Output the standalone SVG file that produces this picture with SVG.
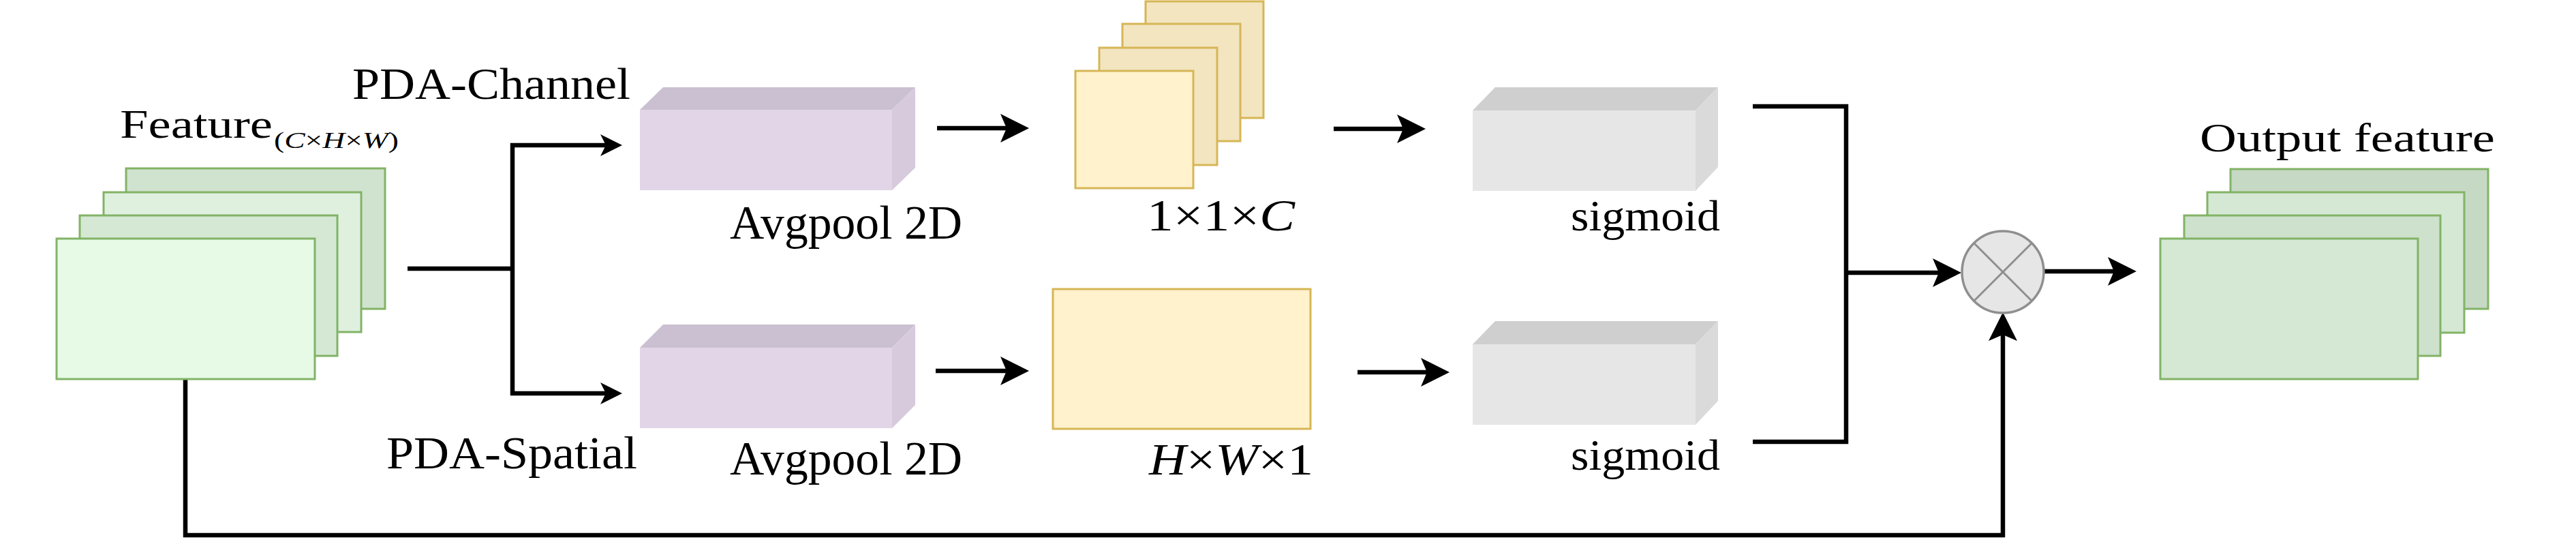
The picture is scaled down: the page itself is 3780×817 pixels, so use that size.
<svg xmlns="http://www.w3.org/2000/svg" width="3780" height="817" viewBox="0 0 3780 817">
<style>
  text { font-family: 'Liberation Serif', 'DejaVu Serif', serif; fill: #000; }
  .it { font-style: italic; }
  .conn { fill: none; stroke: #000; stroke-width: 6.5; }
  .grn { stroke: #82b366; stroke-width: 3; }
  .yel { stroke: #d6b656; stroke-width: 3; }
</style>
<defs>
  <marker id="arrL" markerUnits="userSpaceOnUse" viewBox="0 0 42 42" markerWidth="42" markerHeight="42" refX="16" refY="21" orient="auto">
    <path d="M42,21 L0,0 L9,21 L0,42 Z" fill="#000"/>
  </marker>
  <marker id="arrS" markerUnits="userSpaceOnUse" viewBox="0 0 32 32" markerWidth="32" markerHeight="32" refX="12" refY="16" orient="auto">
    <path d="M32,16 L0,0 L8,16 L0,32 Z" fill="#000"/>
  </marker>
</defs>

<g id="connectors">
  <path class="conn" d="M598,394 H752"/>
  <path class="conn" d="M752,394 V213 H893" marker-end="url(#arrS)"/>
  <path class="conn" d="M752,394 V577 H893" marker-end="url(#arrS)"/>
  <path class="conn" d="M1375,188 H1484" marker-end="url(#arrL)"/>
  <path class="conn" d="M1373,544 H1484" marker-end="url(#arrL)"/>
  <path class="conn" d="M1957,189 H2066" marker-end="url(#arrL)"/>
  <path class="conn" d="M1992,546 H2101" marker-end="url(#arrL)"/>
  <path class="conn" d="M2572,156 H2709 V648 H2572"/>
  <path class="conn" d="M2709,400 H2852" marker-end="url(#arrL)"/>
  <path class="conn" d="M2999,398 H3109" marker-end="url(#arrL)"/>
  <path class="conn" d="M272,556 V785 H2939 V484" marker-end="url(#arrL)"/>
</g>

<g id="feature">
  <rect class="grn" x="185" y="247" width="380" height="206" fill="#d0e3cf"/>
  <rect class="grn" x="152" y="282" width="378" height="205" fill="#dff0df"/>
  <rect class="grn" x="117" y="316" width="378" height="206" fill="#d5e8d4"/>
  <rect class="grn" x="83" y="350" width="379" height="206" fill="#e6fae6"/>
  <text font-family="Liberation Serif, DejaVu Serif, serif" x="176" y="202" font-size="60" textLength="224" lengthAdjust="spacingAndGlyphs">Feature</text>
  <text font-family="Liberation Serif, DejaVu Serif, serif" x="402" y="217" font-size="34" textLength="183" lengthAdjust="spacingAndGlyphs">(<tspan class="it">C</tspan>×<tspan class="it">H</tspan>×<tspan class="it">W</tspan>)</text>
</g>

<g id="label-pda-channel">
  <text font-family="Liberation Serif, DejaVu Serif, serif" x="517" y="145" font-size="65" textLength="408" lengthAdjust="spacingAndGlyphs">PDA-Channel</text>
</g>
<g id="label-pda-spatial">
  <text font-family="Liberation Serif, DejaVu Serif, serif" x="567" y="687" font-size="68" textLength="368" lengthAdjust="spacingAndGlyphs">PDA-Spatial</text>
</g>

<g id="avgpool-channel">
  <rect x="939" y="161" width="370" height="118" fill="#e1d5e7"/>
  <polygon points="939,161 973,128 1343,128 1309,161" fill="#cbc0d1"/>
  <polygon points="1309,161 1343,128 1343,246 1309,279" fill="#d6cadc"/>
  <text font-family="Liberation Serif, DejaVu Serif, serif" x="1071" y="350" font-size="69" textLength="341" lengthAdjust="spacingAndGlyphs">Avgpool 2D</text>
</g>

<g id="avgpool-spatial">
  <rect x="939" y="510" width="370" height="118" fill="#e1d5e7"/>
  <polygon points="939,510 973,476 1343,476 1309,510" fill="#cbc0d1"/>
  <polygon points="1309,510 1343,476 1343,594 1309,628" fill="#d6cadc"/>
  <text font-family="Liberation Serif, DejaVu Serif, serif" x="1071" y="696" font-size="69" textLength="341" lengthAdjust="spacingAndGlyphs">Avgpool 2D</text>
</g>

<g id="channel-map">
  <rect class="yel" x="1681" y="2" width="173" height="171" fill="#f2e5c0"/>
  <rect class="yel" x="1647" y="35" width="173" height="172" fill="#f2e5c0"/>
  <rect class="yel" x="1613" y="70" width="173" height="172" fill="#f2e5c0"/>
  <rect class="yel" x="1578" y="104" width="173" height="172" fill="#fff2cc"/>
  <text font-family="Liberation Serif, DejaVu Serif, serif" x="1683" y="338" font-size="66" textLength="217" lengthAdjust="spacingAndGlyphs">1×1×<tspan class="it">C</tspan></text>
</g>

<g id="spatial-map">
  <rect class="yel" x="1545" y="424" width="378" height="205" fill="#fff2cc"/>
  <text font-family="Liberation Serif, DejaVu Serif, serif" x="1686" y="696" font-size="66" textLength="241" lengthAdjust="spacingAndGlyphs"><tspan class="it">H</tspan>×<tspan class="it">W</tspan>×1</text>
</g>

<g id="sigmoid-channel">
  <rect x="2161" y="162" width="327" height="118" fill="#e6e6e6"/>
  <polygon points="2161,162 2194,128 2521,128 2488,162" fill="#cfcfcf"/>
  <polygon points="2488,162 2521,128 2521,245 2488,280" fill="#dadada"/>
  <text font-family="Liberation Serif, DejaVu Serif, serif" x="2305" y="338" font-size="64" textLength="219" lengthAdjust="spacingAndGlyphs">sigmoid</text>
</g>

<g id="sigmoid-spatial">
  <rect x="2161" y="505" width="327" height="118" fill="#e6e6e6"/>
  <polygon points="2161,505 2194,471 2521,471 2488,505" fill="#cfcfcf"/>
  <polygon points="2488,505 2521,471 2521,588 2488,623" fill="#dadada"/>
  <text font-family="Liberation Serif, DejaVu Serif, serif" x="2305" y="689" font-size="64" textLength="219" lengthAdjust="spacingAndGlyphs">sigmoid</text>
</g>

<g id="multiply">
  <circle cx="2939" cy="399" r="60" fill="#e6e6e6" stroke="#8f8f8f" stroke-width="3.5"/>
  <path d="M2897,357 L2981,441 M2981,357 L2897,441" stroke="#8f8f8f" stroke-width="3"/>
</g>

<g id="output-feature">
  <rect class="grn" x="3273" y="248" width="378" height="205" fill="#c6d9c5"/>
  <rect class="grn" x="3239" y="282" width="377" height="206" fill="#d5e8d4"/>
  <rect class="grn" x="3205" y="316" width="376" height="206" fill="#cde1cc"/>
  <rect class="grn" x="3170" y="350" width="378" height="206" fill="#d5e8d4"/>
  <text font-family="Liberation Serif, DejaVu Serif, serif" x="3228" y="222" font-size="60" textLength="433" lengthAdjust="spacingAndGlyphs">Output feature</text>
</g>
</svg>
